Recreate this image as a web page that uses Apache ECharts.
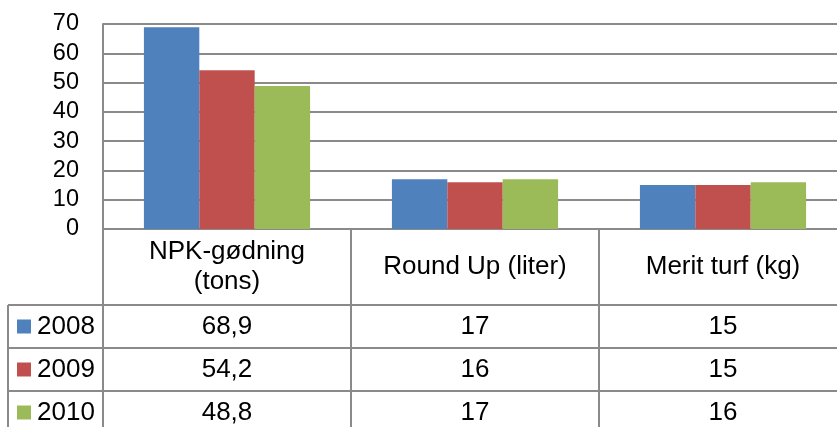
<!DOCTYPE html>
<html>
<head>
<meta charset="utf-8">
<script src="https://cdn.jsdelivr.net/npm/echarts@6/dist/echarts.min.js"></script>
<style>
html,body{margin:0;padding:0;background:#fff;overflow:hidden;width:837px;height:427px;}
#chart{width:849px;height:427px;}
</style>
</head>
<body>
<div id="chart"></div>
<script>
var categories = ['NPK-gødning\n(tons)', 'Round Up (liter)', 'Merit turf (kg)'];
var seriesNames = ['2008', '2009', '2010'];
var values2008 = [68.9, 17, 15];
var values2009 = [54.2, 16, 15];
var values2010 = [48.8, 17, 16];
var yTicks = [0, 10, 20, 30, 40, 50, 60, 70];

var colors = ['#4F81BD', '#C0504D', '#9BBB59'];
var lineColor = '#8a8a8a';
var fontTable = '"Liberation Sans", Arial, sans-serif';
var allValues = [values2008, values2009, values2010];

var chart = echarts.init(document.getElementById('chart'));
var option = {
  animation: false,
  backgroundColor: '#fff',
  color: colors,
  grid: { left: 103, right: 2, top: 24, bottom: 198, containLabel: false },
  xAxis: {
    type: 'category',
    data: categories,
    axisLine: { show: true, lineStyle: { color: lineColor, width: 2 } },
    axisTick: { show: true, length: 200, lineStyle: { color: lineColor, width: 2 } },
    axisLabel: {
      show: true, margin: 38, verticalAlign: 'middle', align: 'center',
      fontFamily: fontTable, fontSize: 26, lineHeight: 30, color: '#000'
    },
    splitLine: { show: false }
  },
  yAxis: {
    type: 'value',
    min: yTicks[0], max: yTicks[yTicks.length - 1], interval: yTicks[1] - yTicks[0],
    axisLine: { show: true, lineStyle: { color: lineColor, width: 2 } },
    axisTick: { show: false },
    axisLabel: { margin: 24, fontFamily: fontTable, fontSize: 23.5, color: '#000' },
    splitLine: { show: true, lineStyle: { color: lineColor, width: 2 } }
  },
  series: seriesNames.map(function (n, i) {
    return {
      name: n, type: 'bar', data: allValues[i],
      barGap: 0, barCategoryGap: '33%',
      itemStyle: { color: colors[i] }
    };
  })
};
chart.setOption(option);

// Build data table below the axis from the axis scale
var y0 = chart.convertToPixel({ yAxisIndex: 0 }, 0);
var headerH = 76, rowH = 43, tableLeft = 8, W = 849, H = 427;
var g = [];
var rowTop = y0 + headerH;
for (var r = 0; r < seriesNames.length; r++) {
  var yt = rowTop + r * rowH;
  g.push({ type: 'line', shape: { x1: tableLeft, y1: yt, x2: W, y2: yt }, style: { stroke: lineColor, lineWidth: 2 }, silent: true });
  var yc = yt + rowH / 2;
  g.push({ type: 'rect', shape: { x: 17, y: yc - 7, width: 14, height: 14 }, style: { fill: colors[r] }, silent: true });
  g.push({ type: 'text', x: 37, y: yc, style: { text: seriesNames[r], fill: '#000', font: '26px ' + fontTable, align: 'left', verticalAlign: 'middle' }, silent: true });
  for (var c = 0; c < categories.length; c++) {
    var xc = chart.convertToPixel({ xAxisIndex: 0 }, c);
    g.push({ type: 'text', x: xc, y: yc, style: { text: String(allValues[r][c]).replace('.', ','), fill: '#000', font: '26px ' + fontTable, align: 'center', verticalAlign: 'middle' }, silent: true });
  }
}
g.push({ type: 'line', shape: { x1: tableLeft, y1: rowTop, x2: tableLeft, y2: H }, style: { stroke: lineColor, lineWidth: 2 }, silent: true });
chart.setOption({ graphic: g });
</script>
</body>
</html>
